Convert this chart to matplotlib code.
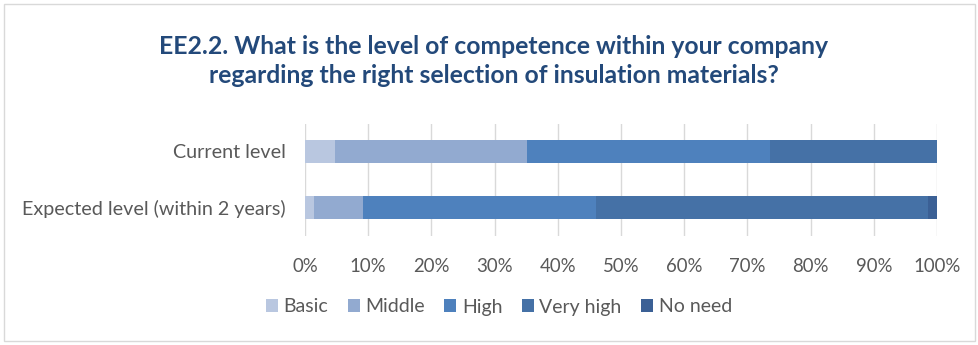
import matplotlib
matplotlib.use("Agg")
import matplotlib.pyplot as plt
from matplotlib.patches import Rectangle
from matplotlib.ticker import PercentFormatter

categories = ["Current level", "Expected level (within 2 years)"]
series_names = ["Basic", "Middle", "High", "Very high", "No need"]
basic = [4.8, 1.5]
middle = [30.3, 7.7]
high = [38.4, 36.9]
very_high = [26.5, 52.4]
no_need = [0.0, 1.5]
xticks = [0, 10, 20, 30, 40, 50, 60, 70, 80, 90, 100]
colors = ["#B9C7E0", "#92AAD0", "#4E81BD", "#4571A6", "#3B6095"]

title = ("EE2.2. What is the level of competence within your company\n"
         "regarding the right selection of insulation materials?")

plt.rcParams['font.family'] = ['Lato', 'DejaVu Sans']

W, H = 979, 345
fig = plt.figure(figsize=(W / 100, H / 100), dpi=100)

# outer border
fig.patches.append(Rectangle((4 / W, 4 / H), (W - 8) / W, (H - 8) / H,
                             transform=fig.transFigure, fill=False,
                             edgecolor="#D9D9D9", linewidth=1.0))

ax = fig.add_axes([305 / W, 1 - 235.5 / H, 632 / W, 112 / H])

values = [basic, middle, high, very_high, no_need]
ypos = list(range(len(categories)))
left = [0.0] * len(categories)
handles = []
for name, vals, col in zip(series_names, values, colors):
    b = ax.barh(ypos, vals, left=left, height=0.41, color=col, label=name, zorder=3)
    handles.append(b)
    left = [l + v for l, v in zip(left, vals)]

ax.set_ylim(1.5, -0.5)
ax.set_xlim(0, 100)
ax.set_yticks(ypos)
ax.set_yticklabels(categories, fontsize=14.2, color="#595959")
ax.set_xticks(xticks)
ax.xaxis.set_major_formatter(PercentFormatter(decimals=0))
ax.tick_params(axis='x', labelsize=13.4, labelcolor="#595959", length=0, pad=16)
ax.tick_params(axis='y', length=0, pad=14)
ax.grid(axis='x', color="#D9D9D9", linewidth=1.0, zorder=0)
for s in ax.spines.values():
    s.set_visible(False)

fig.text(494 / W, 1 - 61 / H, title, ha='center', va='center',
         fontsize=17.8, fontweight='bold', color="#23497A", linespacing=1.3)

fig.legend(handles=handles, labels=series_names, loc='center',
           bbox_to_anchor=(499 / W, 1 - 307 / H), ncol=5, frameon=False,
           fontsize=14, labelcolor="#595959", handlelength=0.6,
           handleheight=0.6, handletextpad=0.3, columnspacing=1.0)

fig.savefig("out.png", dpi=100, facecolor="white")
